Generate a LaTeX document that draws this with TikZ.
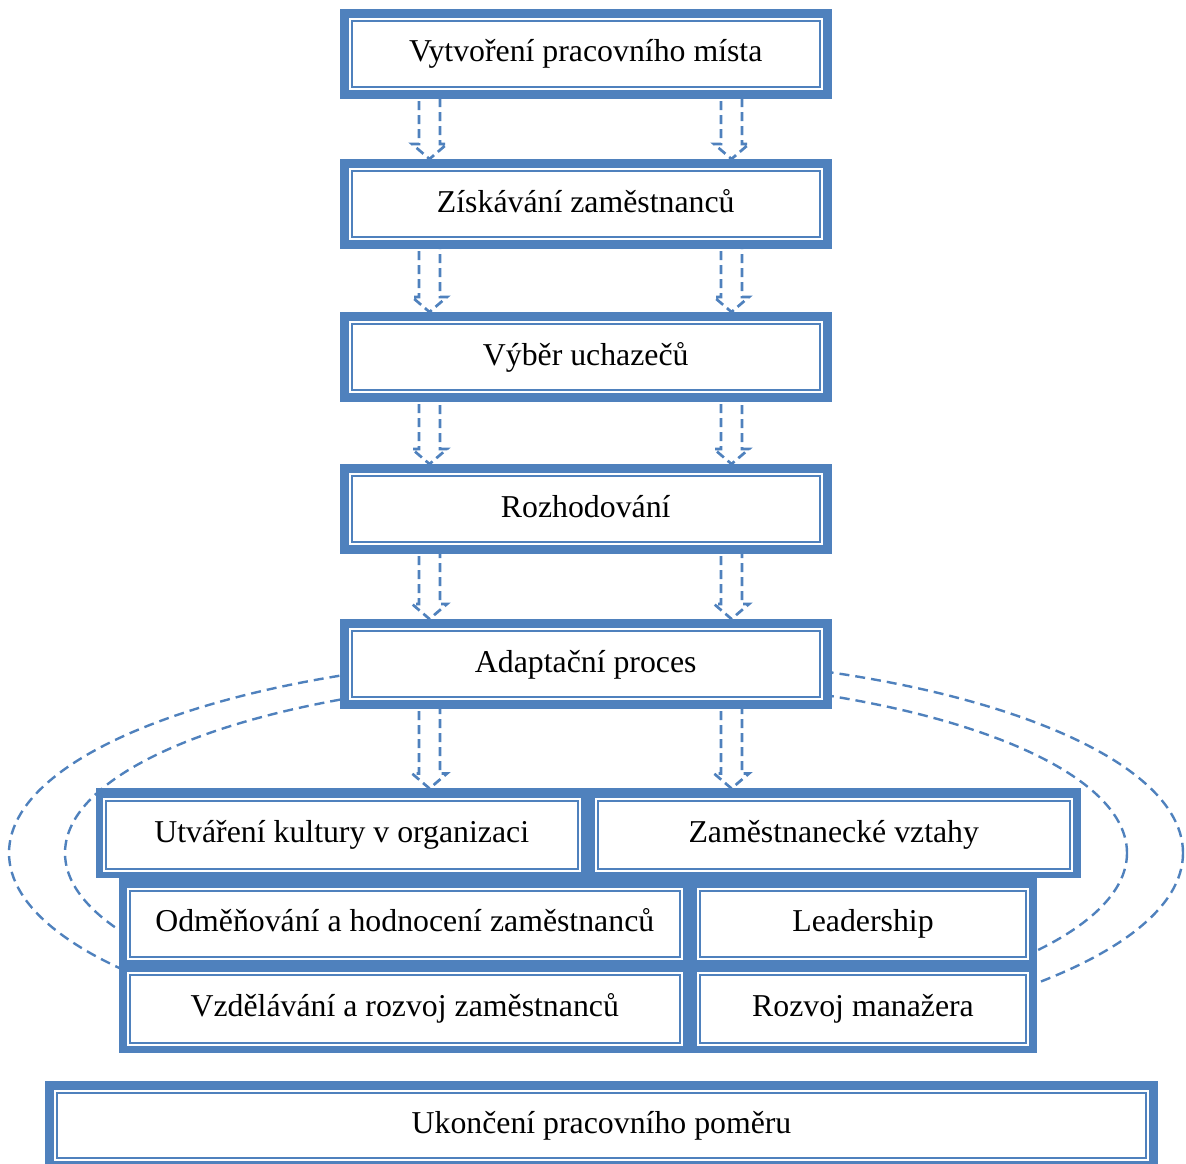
\documentclass[tikz,border=0pt]{standalone}
\usepackage{fontspec}
\setmainfont{Liberation Serif}
\usetikzlibrary{calc,backgrounds}
\definecolor{accent}{HTML}{4F81BD}
\tikzset{
  cell/.style={draw=accent, line width=2pt, fill=white, inner sep=0pt, outer sep=0pt,
    preaction={draw=white, line width=6pt},
    font=\fontsize{31.8}{38}\selectfont, text height=21pt, text depth=5pt},
  framed/.style={preaction={draw=accent, line width=24pt}, cell},
  arrowline/.style={draw=accent, line width=2.7pt, dash pattern=on 9pt off 5pt},
  loopline/.style={draw=accent, line width=2.4pt, dash pattern=on 10pt off 6pt},
}
% hollow dashed block arrow from the bottom of one box to the top of the next
\newcommand\hollowarrow[3]{%
  \draw[arrowline] let \p1=(#1.south -| #3), \p2=(#2.north -| #3) in
    (\x1-10.5pt,\y1) -- (\x1-10.5pt,\y2+27pt) -- (\x1-17.5pt,\y2+27pt)
    -- (\x1,\y2+12pt) -- (\x1+17.5pt,\y2+27pt) -- (\x1+10.5pt,\y2+27pt)
    -- (\x1+10.5pt,\y1) -- cycle;}
\begin{document}
\begin{tikzpicture}[x=1pt, y=-1pt]
\useasboundingbox (0,0) rectangle (1186,1164);

% process chain
\node[framed, minimum width=468.5pt, minimum height=66pt] (b1) at (585.75,54) {Vytvoření pracovního místa};
\node[framed, minimum width=468.5pt, minimum height=66pt] (b2) at (585.75,204) {Získávání zaměstnanců};
\node[framed, minimum width=468.5pt, minimum height=66pt] (b3) at (585.75,357) {Výběr uchazečů};
\node[framed, minimum width=468.5pt, minimum height=66pt] (b4) at (585.75,509) {Rozhodování};
\node[framed, minimum width=468.5pt, minimum height=66pt] (b5) at (585.75,664) {Adaptační proces};

% first block of activities
\fill[accent] (96,788) rectangle (1081,878);
\node[cell, minimum width=471.5pt, minimum height=68pt] (utv) at (341.75,834.5) {Utváření kultury v organizaci};
\node[cell, minimum width=472.5pt, minimum height=68pt] (zam) at (833.75,834.5) {Zaměstnanecké vztahy};

% second block of activities
\fill[accent] (119,878) rectangle (1037,1053);
\node[cell, minimum width=549.5pt, minimum height=66.5pt] (odm) at (404.75,923.75) {Odměňování a hodnocení zaměstnanců};
\node[cell, minimum width=326pt, minimum height=66.5pt] (lead) at (863,923.75) {Leadership};
\node[cell, minimum width=549.5pt, minimum height=67.5pt] (vzd) at (404.75,1008.75) {Vzdělávání a rozvoj zaměstnanců};
\node[cell, minimum width=326pt, minimum height=67.5pt] (roz) at (863,1008.75) {Rozvoj manažera};

% end of employment
\node[framed, minimum width=1089pt, minimum height=65pt] (end) at (601.5,1125.5) {Ukončení pracovního poměru};

\coordinate (colL) at (429.5,0);
\coordinate (colR) at (731.5,0);
\coordinate (loopc) at (596,853);

\begin{pgfonlayer}{background}
  \hollowarrow{b1}{b2}{colL}
  \hollowarrow{b1}{b2}{colR}
  \hollowarrow{b2}{b3}{colL}
  \hollowarrow{b2}{b3}{colR}
  \hollowarrow{b3}{b4}{colL}
  \hollowarrow{b3}{b4}{colR}
  \hollowarrow{b4}{b5}{colL}
  \hollowarrow{b4}{b5}{colR}
  \hollowarrow{b5}{utv}{colL}
  \hollowarrow{b5}{zam}{colR}
  % feedback loops around the activities
  \draw[loopline] (loopc) ellipse [x radius=587, y radius=197];
  \draw[loopline] (loopc) ellipse [x radius=531, y radius=175];
\end{pgfonlayer}
\end{tikzpicture}
\end{document}
